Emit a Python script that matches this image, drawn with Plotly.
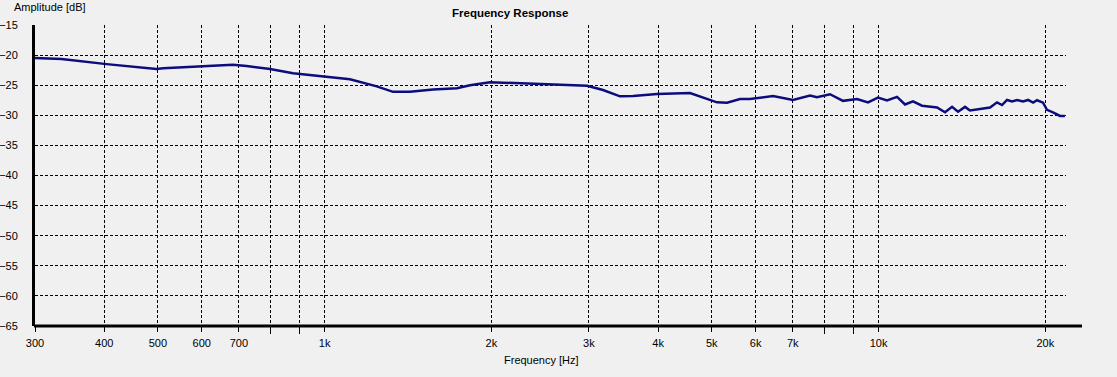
import math
import plotly.graph_objects as go

# ---- data ----
freq_hz = [300, 335, 404, 497, 511, 603, 683, 723, 797, 877, 993, 1111, 1242, 1329, 1426,
           1570, 1734, 1830, 1988, 2281, 2660, 2977, 3181, 3414, 3604, 3982, 4567, 5108,
           5327, 5623, 5862, 6450, 7008, 7520, 7742, 8172, 8628, 9145, 9573, 9977, 10360,
           10800, 11165, 11540, 11982, 12755, 13185, 13575, 13917, 14326, 14626, 15248,
           15896, 16368, 16711, 17062, 17422, 17788, 18237, 18620, 19014, 19327, 19815,
           20143, 20654, 21260, 21700]
amp_db = [-20.5, -20.65, -21.5, -22.3, -22.2, -21.8, -21.6, -21.8, -22.3, -23.0, -23.5,
          -24.0, -25.2, -26.1, -26.1, -25.7, -25.5, -25.0, -24.5, -24.7, -24.9, -25.1,
          -25.8, -26.85, -26.8, -26.45, -26.3, -27.85, -27.9, -27.3, -27.3, -26.8, -27.45,
          -26.7, -27.0, -26.5, -27.6, -27.3, -27.85, -27.05, -27.55, -26.95, -28.2, -27.7,
          -28.4, -28.7, -29.5, -28.6, -29.4, -28.6, -29.2, -28.95, -28.7, -27.85, -28.3,
          -27.45, -27.7, -27.45, -27.7, -27.45, -27.9, -27.5, -27.9, -29.1, -29.5, -30.1,
          -30.1]

x_tickvals = [300, 400, 500, 600, 700, 1000, 2000, 3000, 4000, 5000, 6000, 7000, 10000, 20000]
x_ticktext = ["300", "400", "500", "600", "700", "1k", "2k", "3k", "4k", "5k", "6k", "7k", "10k", "20k"]
x_minorvals = [800, 900, 8000, 9000]
y_tickvals = [-15, -20, -25, -30, -35, -40, -45, -50, -55, -60, -65]

x_min, x_max = 300, 21800
y_min, y_max = -65, -15

BG = "#f0f0f0"
FONT = "Liberation Sans, Arial, sans-serif"

fig = go.Figure()
fig.add_trace(go.Scatter(x=freq_hz, y=amp_db, mode="lines",
                         line=dict(color="#0c0c7c", width=2.5), hoverinfo="skip"))

fig.update_layout(
    width=1117, height=377,
    margin=dict(l=35, r=51, t=25, b=51, autoexpand=False),
    paper_bgcolor=BG, plot_bgcolor=BG,
    showlegend=False,
    font=dict(family=FONT, size=11, color="#000000"),
)

fig.update_xaxes(
    type="log", range=[math.log10(x_min), math.log10(x_max)],
    automargin=False,
    tickmode="array", tickvals=x_tickvals, ticktext=x_ticktext,
    ticks="outside", ticklen=5, tickwidth=1, tickcolor="#000000",
    ticklabelstandoff=2,
    showgrid=True, gridcolor="#000000", gridwidth=1, griddash="3px,2px",
    minor=dict(tickmode="array", tickvals=x_minorvals, ticks="outside", ticklen=7,
               tickwidth=1, tickcolor="#000000", showgrid=True, gridcolor="#000000",
               gridwidth=1, griddash="3px,2px"),
    showline=False, zeroline=False,
    tickfont=dict(family=FONT, size=11, color="#000000"),
)
fig.update_yaxes(
    range=[y_min, y_max], tickmode="array", tickvals=y_tickvals,
    automargin=False,
    ticks="", ticklabelstandoff=12,
    showgrid=True, gridcolor="#000000", gridwidth=1, griddash="3px,2px",
    showline=True, linecolor="#000000", linewidth=3,
    zeroline=False,
    tickfont=dict(family=FONT, size=11, color="#000000"),
)

# bottom axis line (extends a little past the plotting area, as in the original)
fig.add_shape(type="line", xref="paper", yref="paper", x0=-0.001, x1=1.0155, y0=0, y1=0,
              line=dict(color="#000000", width=3))

fig.add_annotation(text="<b>Frequency Response</b>", xref="paper", yref="paper",
                   x=0.4607, y=1.0415, xanchor="center", yanchor="middle", showarrow=False,
                   font=dict(family=FONT, size=11.5, color="#000000"))
fig.add_annotation(text="Amplitude [dB]", xref="paper", yref="paper",
                   x=-0.0223, y=1.0598, xanchor="left", yanchor="middle", showarrow=False,
                   font=dict(family=FONT, size=11, color="#000000"))
fig.add_annotation(text="Frequency [Hz]", xref="paper", yref="paper",
                   x=0.4908, y=-0.113, xanchor="center", yanchor="middle", showarrow=False,
                   font=dict(family=FONT, size=11, color="#000000"))

fig.write_html("out.html", config={"displayModeBar": False},
               post_script="document.body.style.margin='0';document.body.style.background='#f0f0f0';")
